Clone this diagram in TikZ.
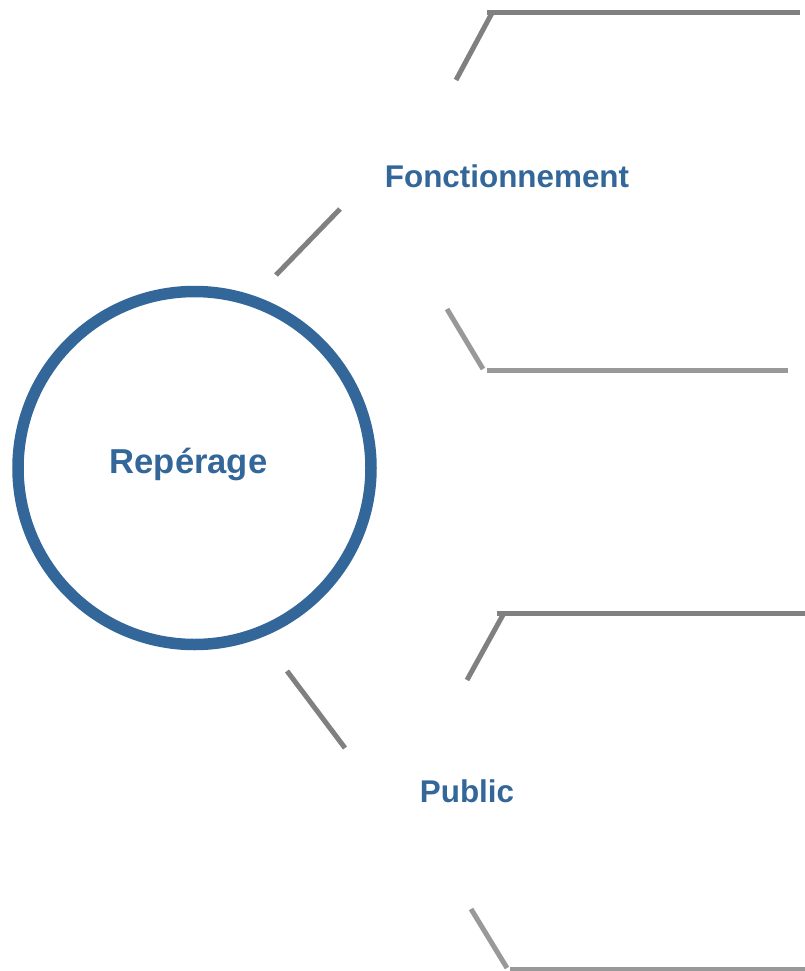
\documentclass[tikz,border=0pt]{standalone}
\usepackage{fontspec}
\setmainfont{Liberation Sans}
\definecolor{mainblue}{HTML}{336699}
\definecolor{darkgray}{HTML}{808080}
\definecolor{lightgray}{HTML}{999999}
\tikzset{
  lbl/.style={text=mainblue, font=\bfseries\fontsize{31.4}{36}\selectfont, anchor=base, inner sep=0pt},
  dline/.style={draw=darkgray, line width=5pt},
  lline/.style={draw=lightgray, line width=5pt},
}
\begin{document}
\begin{tikzpicture}[x=1pt,y=-1pt]
\useasboundingbox (0,0) rectangle (805,971);
% central circle
\draw[mainblue, line width=11.5pt] (194.5,468) circle (176.5);
\node[lbl, font=\bfseries\fontsize{34.6}{40}\selectfont] (rep) at (188.5,473) {Repérage};
\node[lbl] (fonc) at (507,187) {Fonctionnement};
\node[lbl] (pub) at (467,802) {Public};
% coordinates
\coordinate (a1) at (276,275); \coordinate (a2) at (340,209);
\coordinate (b1) at (456,80); \coordinate (b2) at (492,13); \coordinate (b3) at (800,13);
\coordinate (c1) at (447,309); \coordinate (c2) at (483,369);
\coordinate (c3) at (487,370); \coordinate (c4) at (788,370);
\coordinate (d1) at (287,671); \coordinate (d2) at (345,748);
\coordinate (e1) at (467,680); \coordinate (e2) at (504,613); \coordinate (e3) at (805,613);
\coordinate (f1) at (471,909); \coordinate (f2) at (507,968);
\coordinate (f3) at (510,969); \coordinate (f4) at (805,969);
% connectors
\draw[dline] (a1) -- (a2);
\draw[dline] (b1) -- (b2);
\draw[dline] (487,13) -- (b3);
\draw[lline] (c1) -- (c2);
\draw[lline] (c3) -- (c4);
\draw[dline] (d1) -- (d2);
\draw[dline] (e1) -- (e2);
\draw[dline] (497,613) -- (e3);
\draw[lline] (f1) -- (f2);
\draw[lline] (f3) -- (f4);
\end{tikzpicture}
\end{document}
